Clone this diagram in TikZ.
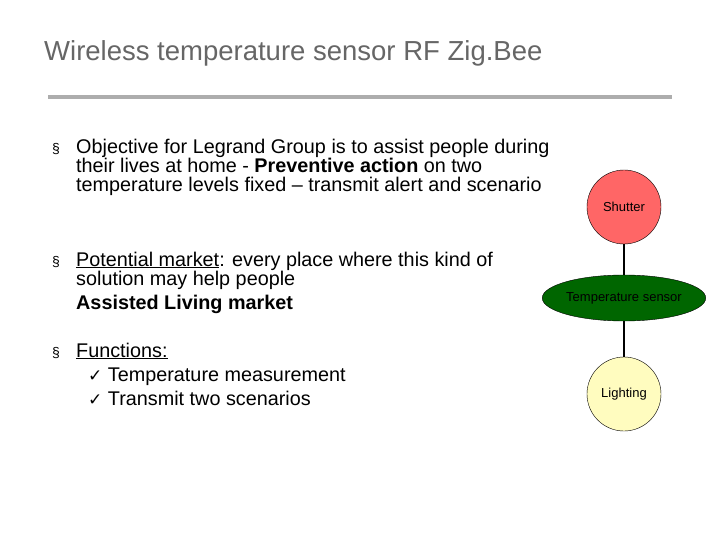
\documentclass[tikz,border=0pt]{standalone}
\usepackage{fontspec}
\setmainfont{Liberation Sans}
\newfontfamily\dv{DejaVu Sans}
\usetikzlibrary{shapes.geometric}
\begin{document}
\begin{tikzpicture}[x=1pt,y=-1pt,
 txt/.style={anchor=base west,inner sep=0pt,font=\fontsize{19.8}{22}\selectfont},
 bul/.style={anchor=base west,inner sep=0pt,font=\fontsize{14}{16}\selectfont},
 lbl/.style={font=\fontsize{13}{15}\selectfont,inner sep=0pt}]
\useasboundingbox[fill=white] (0,0) rectangle (720,540);
\node[anchor=base west,inner sep=0pt,text=black!60,font=\fontsize{27.5}{30}\selectfont] (title) at (44,61) {Wireless temperature sensor RF Zig.Bee};
\fill[black!32] (48,95.5) rectangle (672,99);
\node[bul] (b1) at (52,154) {\S};
\node[txt] (l1) at (76,154) {Objective for Legrand Group is to assist people during};
\node[txt] (l2) at (76,173) {their lives at home - \textbf{Preventive action} on two};
\node[txt] (l3) at (76,192) {temperature levels fixed -- transmit alert and scenario};
\node[bul] (b2) at (52,266) {\S};
\node[txt] (l4) at (76,266) {\underline{Potential market}: every place where this kind of};
\node[txt] (l5) at (76,285) {solution may help people};
\node[txt] (l6) at (76,309) {\textbf{Assisted Living market}};
\node[bul] (b3) at (52,357) {\S};
\node[txt] (l7) at (76,357) {\underline{Functions:}};
\node[txt] (l8) at (88,381) {{\dv\fontsize{17}{19}\selectfont ✓} Temperature measurement};
\node[txt] (l9) at (88,405) {{\dv\fontsize{17}{19}\selectfont ✓} Transmit two scenarios};
\node[circle,draw=black,fill=red!60!white,minimum size=74pt,lbl] (sh) at (624,207) {Shutter};
\node[ellipse,draw=black,fill=green!40!black,minimum width=155pt,minimum height=46pt,lbl,text=black] (ts) at (624,298) {Temperature sensor};
\node[circle,draw=black,fill=yellow!25!white,minimum size=74pt,lbl] (li) at (624,394) {Lighting};
\draw[line width=1.2pt] (sh) -- (ts);
\draw[line width=1.2pt] (ts) -- (li);
\end{tikzpicture}
\end{document}
